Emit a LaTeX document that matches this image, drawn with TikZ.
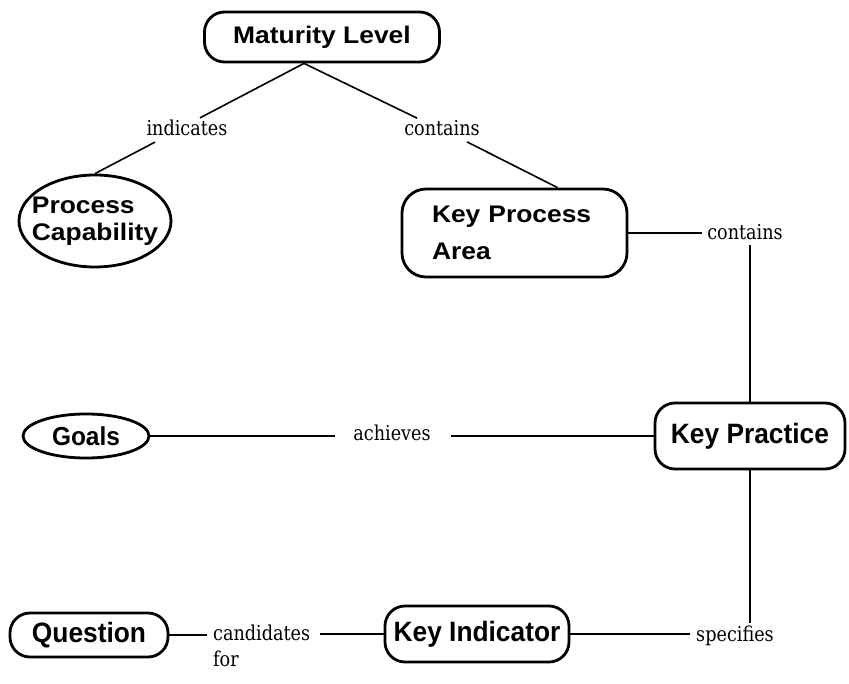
\documentclass[tikz,border=0pt]{standalone}
\usepackage{fontspec}
\setmainfont{Liberation Sans}
\newfontfamily\widefont{Liberation Sans}[FakeStretch=1.1]
\newfontfamily\narrowfont{Liberation Sans}[FakeStretch=0.94]
\newfontfamily\labelfont{DejaVu Serif}[FakeStretch=0.86]
\usetikzlibrary{shapes.geometric}

\begin{document}
\begin{tikzpicture}[x=1pt,y=-1pt,
  concept/.style={draw, line width=2.8pt, rounded corners=20pt, inner sep=0pt,
    font=\narrowfont\bfseries\fontsize{28}{30}\selectfont},
  widetext/.style={font=\widefont\bfseries\fontsize{24}{#1}\selectfont},
  oval/.style={draw, ellipse, line width=2.8pt, inner sep=0pt},
  rel/.style={inner sep=0pt, font=\labelfont\fontsize{20.5}{26}\selectfont},
  link/.style={line width=1.6pt}]

\fill[white] (0,0) rectangle (849,684);
\useasboundingbox (0,0) rectangle (849,684);

% concepts
\node[concept, widetext=28, minimum width=235pt, minimum height=50pt] (ml) at (322,37) {Maturity Level};
\node[oval, widetext=27, align=left, inner xsep=-10pt, inner ysep=0pt,
      minimum width=152pt, minimum height=92pt] (pc) at (95,221) {Process\\Capability};
\node[concept, widetext=37, align=left, text width=165pt, inner xsep=30pt,
      minimum height=88pt, rounded corners=24pt] (kpa) at (514.5,233) {Key Process\\Area};
\node[concept, minimum width=190pt, minimum height=66pt] (kp) at (750,436) {Key Practice};
\node[oval, font=\narrowfont\bfseries\fontsize{26}{28}\selectfont,
      minimum width=126pt, minimum height=44pt] (goals) at (86,436) {Goals};
\node[concept, minimum width=158pt, minimum height=44pt] (q) at (89,635) {Question};
\node[concept, minimum width=184pt, minimum height=56pt] (ki) at (477,634) {Key Indicator};

% relation labels
\node[rel] (ind) at (187,128) {indicates};
\node[rel] (ctop) at (442,128) {contains};
\node[rel] (cright) at (745,232) {contains};
\node[rel] (ach) at (392,433) {achieves};
\node[rel, align=left, anchor=west] (cand) at (213,646) {candidates\\for};
\node[rel] (spec) at (735,636) {specifies};

% connectors
\draw[link] ([xshift=-18pt]ml.south) -- ([xshift=13pt,yshift=2pt]ind.north);
\draw[link] ([xshift=-32pt,yshift=-6pt]ind.south) -- (pc.north);
\draw[link] ([xshift=-18pt]ml.south) -- ([xshift=-25pt,yshift=2pt]ctop.north);
\draw[link] ([xshift=25pt,yshift=-6pt]ctop.south) -- ([xshift=43pt]kpa.north);
\draw[link, shorten >=5pt] (kpa.east) -- (kpa.east -| cright.west);
\draw[link, shorten <=5pt] (kp.north |- cright.south) -- (kp.north);
\draw[link, shorten >=18pt] (goals.east) -- (ach.west |- goals.east);
\draw[link, shorten <=20pt] (ach.east |- kp.west) -- (kp.west);
\draw[link, shorten >=3pt] (kp.south) -- (kp.south |- spec.north);
\draw[link, shorten >=6pt] (ki.east) -- (ki.east -| spec.west);
\draw[link, shorten >=6pt] (q.east) -- (q.east -| cand.west);
\draw[link, shorten <=10pt] (ki.west -| cand.east) -- (ki.west);
\end{tikzpicture}
\end{document}
